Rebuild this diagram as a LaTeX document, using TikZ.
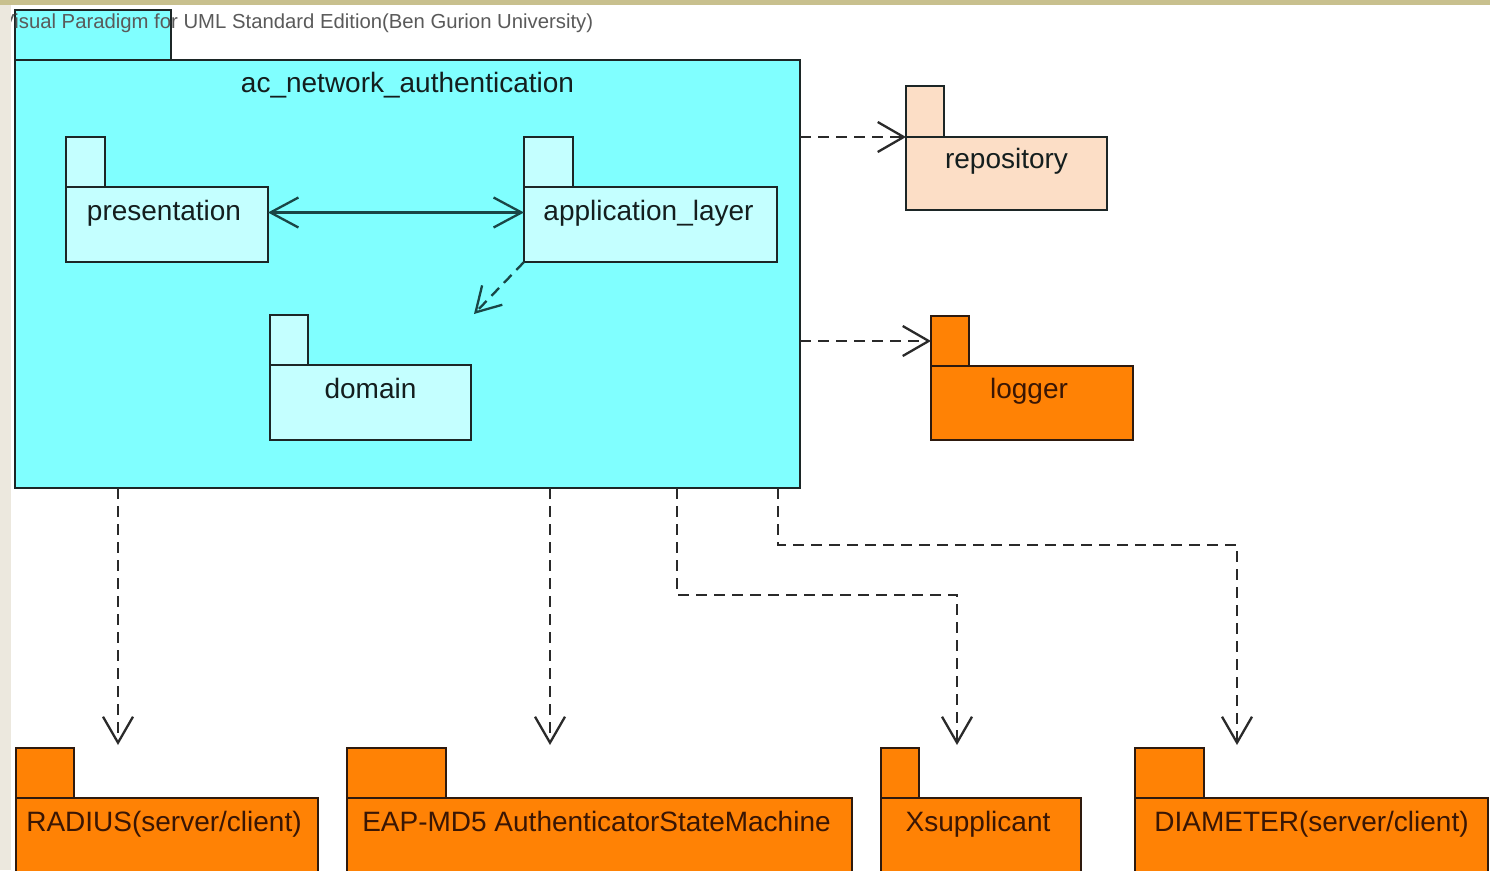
\documentclass[tikz,border=0pt]{standalone}
\usepackage{fontspec}
\setmainfont{Liberation Sans}
\usetikzlibrary{arrows.meta}

\definecolor{pkgcyan}{HTML}{80FFFF}
\definecolor{pkglight}{HTML}{C4FFFF}
\definecolor{pkgpeach}{HTML}{FCDEC6}
\definecolor{pkgorange}{HTML}{FF8205}
\definecolor{edgedark}{HTML}{1C2626}
\definecolor{edgebrown}{HTML}{2E1A0E}
\definecolor{inkdark}{HTML}{141E1E}
\definecolor{inkbrown}{HTML}{3A1604}
\definecolor{wire}{HTML}{2A2A2A}
\definecolor{tealwire}{HTML}{1A4646}
\definecolor{topbar}{HTML}{C8C08E}
\definecolor{sidebar}{HTML}{ECE8DE}
\definecolor{credit}{HTML}{5A5A5A}

\begin{document}
\begin{tikzpicture}[x=1pt,y=-1pt,
  pkgbody/.style={draw, line width=2.6pt, rectangle, outer sep=0pt, inner sep=0pt, anchor=north west},
  pkgtab/.style={draw, line width=2.6pt, rectangle, outer sep=0pt, inner sep=0pt, anchor=south west, minimum height=50pt},
  cyanpkg/.style={fill=pkgcyan, draw=edgedark},
  lightpkg/.style={fill=pkglight, draw=edgedark},
  peachpkg/.style={fill=pkgpeach, draw=edgedark},
  orangepkg/.style={fill=pkgorange, draw=edgebrown},
  pkglabel/.style={anchor=base, font=\fontsize{28}{32}\selectfont, inner sep=0pt, text=inkdark},
  brownlabel/.style={pkglabel, text=inkbrown},
  dep/.style={draw=wire, line width=2.3pt, dash pattern=on 11pt off 7pt,
    -{Straight Barb[length=26pt,width=30pt]}},
  innerdep/.style={draw=tealwire, line width=2.3pt, dash pattern=on 11pt off 7pt,
    -{Straight Barb[length=24pt,width=28pt]}},
  assoc/.style={draw=tealwire, line width=2.3pt,
    {Straight Barb[length=28pt,width=30pt]}-{Straight Barb[length=28pt,width=30pt]}},
]
\useasboundingbox (0,0) rectangle (1490,870);
\clip (0,0) rectangle (1490,870);
\fill[white] (0,0) rectangle (1490,870);

% outer package and its nested packages
\node[pkgbody, cyanpkg, minimum width=785pt, minimum height=428pt] (acn) at (15,60) {};
\node[pkgtab, cyanpkg, minimum width=156pt] (acn-tab) at (acn.north west) {};
\node[pkglabel] (acn-name) at ([yshift=-32pt]acn.north) {ac\_network\_authentication};

\node[pkgbody, lightpkg, minimum width=202pt, minimum height=75pt] (pres) at (66,187) {};
\node[pkgtab, lightpkg, minimum width=39pt] (pres-tab) at (pres.north west) {};
\node[pkglabel] (pres-name) at ([xshift=-3pt,yshift=-33pt]pres.north) {presentation};

\node[pkgbody, lightpkg, minimum width=253pt, minimum height=75pt] (app) at (524,187) {};
\node[pkgtab, lightpkg, minimum width=49pt] (app-tab) at (app.north west) {};
\node[pkglabel] (app-name) at ([xshift=-2pt,yshift=-33pt]app.north) {application\_layer};

\node[pkgbody, lightpkg, minimum width=201pt, minimum height=75pt] (dom) at (270,365) {};
\node[pkgtab, lightpkg, minimum width=38pt] (dom-tab) at (dom.north west) {};
\node[pkglabel] (dom-name) at ([yshift=-33pt]dom.north) {domain};

% packages on the right
\node[pkgbody, peachpkg, minimum width=201pt, minimum height=73pt] (rep) at (906,137) {};
\node[pkgtab, peachpkg, minimum width=38pt, minimum height=51pt] (rep-tab) at (rep.north west) {};
\node[pkglabel] (rep-name) at ([yshift=-31pt]rep.north) {repository};

\node[pkgbody, orangepkg, minimum width=202pt, minimum height=74pt] (log) at (931,366) {};
\node[pkgtab, orangepkg, minimum width=38pt] (log-tab) at (log.north west) {};
\node[brownlabel] (log-name) at ([xshift=-3pt,yshift=-32pt]log.north) {logger};

% packages along the bottom
\node[pkgbody, orangepkg, minimum width=302pt, minimum height=80pt] (rad) at (16,798) {};
\node[pkgtab, orangepkg, minimum width=58pt] (rad-tab) at (rad.north west) {};
\node[brownlabel] (rad-name) at ([xshift=-3pt,yshift=-33pt]rad.north) {RADIUS(server/client)};

\node[pkgbody, orangepkg, minimum width=505pt, minimum height=80pt] (eap) at (347,798) {};
\node[pkgtab, orangepkg, minimum width=99pt] (eap-tab) at (eap.north west) {};
\node[brownlabel] (eap-name) at ([xshift=-3pt,yshift=-33pt]eap.north) {EAP-MD5 AuthenticatorStateMachine};

\node[pkgbody, orangepkg, minimum width=200pt, minimum height=80pt] (xsp) at (881,798) {};
\node[pkgtab, orangepkg, minimum width=38pt] (xsp-tab) at (xsp.north west) {};
\node[brownlabel] (xsp-name) at ([xshift=-3pt,yshift=-33pt]xsp.north) {Xsupplicant};

\node[pkgbody, orangepkg, minimum width=353pt, minimum height=80pt] (dia) at (1135,798) {};
\node[pkgtab, orangepkg, minimum width=69pt] (dia-tab) at (dia.north west) {};
\node[brownlabel] (dia-name) at ([yshift=-33pt]dia.north) {DIAMETER(server/client)};

% relations inside the outer package
\draw[assoc] ([yshift=12pt]pres.east) -- ([yshift=12pt]app.west);
\coordinate (dom-in) at (474,314);
\draw[innerdep] (app.south west) -- (dom-in);

% dependencies of the outer package
\draw[dep] (acn.east |- rep-tab.south west) -- (rep-tab.south west);
\draw[dep] (acn.east |- log-tab.west) -- (log-tab.west);

\coordinate (rad-in) at (118,745);
\draw[dep] (acn.south -| rad-in) -- (rad-in);
\coordinate (eap-in) at (550,745);
\draw[dep] (acn.south -| eap-in) -- (eap-in);
\coordinate (xsp-bend) at (677,595);
\coordinate (xsp-in) at (957,745);
\draw[dep] (acn.south -| xsp-bend) -- (xsp-bend) -| (xsp-in);
\coordinate (dia-bend) at (778,545);
\coordinate (dia-in) at (1237,745);
\draw[dep] (acn.south -| dia-bend) -- (dia-bend) -| (dia-in);

% tool credit line and window edges
\node[anchor=base west, font=\fontsize{20.3}{24}\selectfont, text=credit, inner sep=0pt] (credit-line) at (1,28)
  {Visual Paradigm for UML Standard Edition(Ben Gurion University)};
\fill[sidebar] (0,0) rectangle (11,870);
\fill[topbar] (0,0) rectangle (1490,4.5);
\end{tikzpicture}
\end{document}
